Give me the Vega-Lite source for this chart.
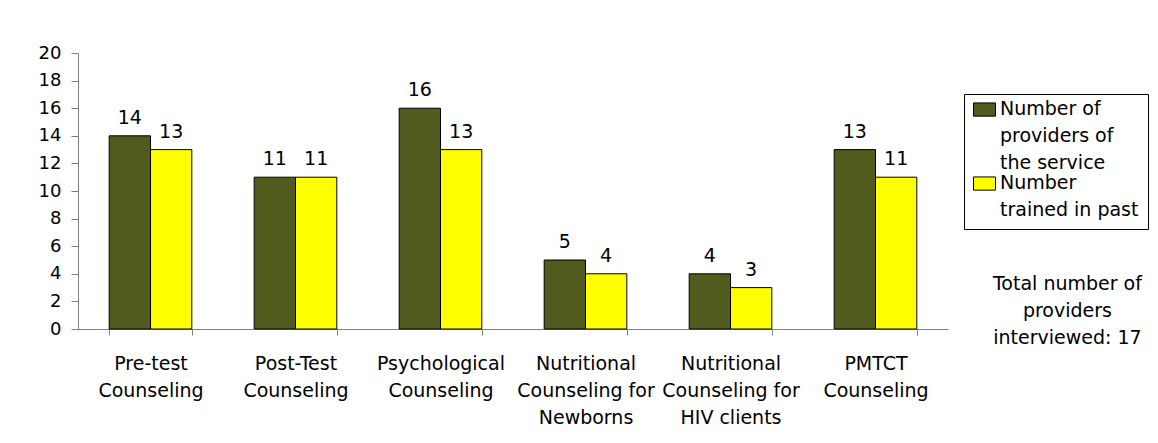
{
  "$schema": "https://vega.github.io/schema/vega-lite/v6.json",
  "width": 870,
  "height": 276,
  "autosize": {"type": "none"},
  "padding": {"left": 78, "top": 53, "right": 210, "bottom": 114},
  "background": "white",
  "config": {
    "font": "DejaVu Sans",
    "view": {"stroke": null},
    "style": {"guide-label": {"lineHeight": 27}},
    "axis": {"labelFont": "DejaVu Sans", "labelFontSize": 19, "labelColor": "#000000", "domainColor": "#808080", "tickColor": "#808080", "grid": false, "title": null}
  },
  "title": {
    "text": ["Total number of", "providers", "interviewed: 17"],
    "orient": "right",
    "angle": 0,
    "anchor": "end",
    "align": "center",
    "baseline": "bottom",
    "offset": -230,
    "dy": -133,
    "fontSize": 19,
    "fontWeight": "normal",
    "lineHeight": 27,
    "font": "DejaVu Sans",
    "color": "#000000"
  },
  "data": {
    "values": [
      {"service": "Pre-test Counseling", "series": "Number of providers of the service", "value": 14},
      {"service": "Pre-test Counseling", "series": "Number trained in past", "value": 13},
      {"service": "Post-Test Counseling", "series": "Number of providers of the service", "value": 11},
      {"service": "Post-Test Counseling", "series": "Number trained in past", "value": 11},
      {"service": "Psychological Counseling", "series": "Number of providers of the service", "value": 16},
      {"service": "Psychological Counseling", "series": "Number trained in past", "value": 13},
      {"service": "Nutritional Counseling for Newborns", "series": "Number of providers of the service", "value": 5},
      {"service": "Nutritional Counseling for Newborns", "series": "Number trained in past", "value": 4},
      {"service": "Nutritional Counseling for HIV clients", "series": "Number of providers of the service", "value": 4},
      {"service": "Nutritional Counseling for HIV clients", "series": "Number trained in past", "value": 3},
      {"service": "PMTCT Counseling", "series": "Number of providers of the service", "value": 13},
      {"service": "PMTCT Counseling", "series": "Number trained in past", "value": 11}
    ]
  },
  "encoding": {
    "x": {
      "field": "service",
      "type": "nominal",
      "sort": null,
      "scale": {"paddingInner": 0.43, "paddingOuter": 0.215},
      "axis": {
        "labelAngle": 0,
        "tickBand": "extent",
        "tickSize": 6,
        "labelPadding": 19,
        "labelLineHeight": 27,
        "labelLimit": 0,
        "labelExpr": "datum.label == 'Nutritional Counseling for Newborns' ? ['Nutritional','Counseling for','Newborns'] : datum.label == 'Nutritional Counseling for HIV clients' ? ['Nutritional','Counseling for','HIV clients'] : split(datum.label, ' ')"
      }
    },
    "xOffset": {
      "field": "series",
      "type": "nominal",
      "sort": ["Number of providers of the service", "Number trained in past"],
      "scale": {"paddingInner": 0, "paddingOuter": 0}
    },
    "y": {
      "field": "value",
      "type": "quantitative",
      "scale": {"domain": [0, 20], "nice": false},
      "axis": {"values": [0, 2, 4, 6, 8, 10, 12, 14, 16, 18, 20], "tickSize": 7, "labelPadding": 10, "labelFontSize": 18}
    }
  },
  "layer": [
    {
      "mark": {"type": "bar", "stroke": "#000000", "strokeWidth": 1},
      "encoding": {
        "color": {
          "field": "series",
          "type": "nominal",
          "scale": {"domain": ["Number of providers of the service", "Number trained in past"], "range": ["#505B1D", "#FFFF00"]},
          "legend": {
            "title": null,
            "orient": "none",
            "legendX": 886,
            "legendY": 41,
            "strokeColor": "#000000",
            "fillColor": "#ffffff",
            "padding": 9,
            "symbolType": "M-1,-1.05H1V0.15H-1Z",
            "symbolSize": 484,
            "symbolStrokeColor": "#000000",
            "symbolStrokeWidth": 1,
            "labelFont": "DejaVu Sans",
            "labelFontSize": 19,
            "labelColor": "#000000",
            "labelLimit": 0,
            "labelBaseline": "alphabetic",
            "rowPadding": 0,
            "labelExpr": "datum.label == 'Number trained in past' ? ['Number','trained in past'] : ['Number of','providers of','the service']"
          }
        }
      }
    },
    {
      "mark": {"type": "text", "baseline": "alphabetic", "dy": -12, "fontSize": 19, "font": "DejaVu Sans", "color": "#000000"},
      "encoding": {"text": {"field": "value", "type": "quantitative"}}
    }
  ]
}
